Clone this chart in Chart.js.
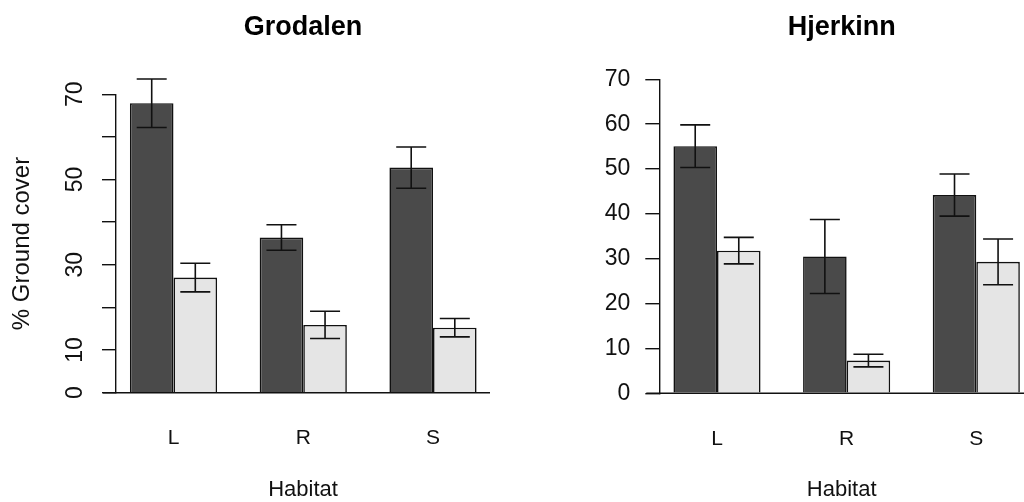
<!DOCTYPE html>
<html>
<head>
<meta charset="utf-8">
<script src="https://cdn.jsdelivr.net/npm/chart.js@4.4.1/dist/chart.umd.min.js"></script>
<style>
  body { margin: 0; background: #fff; }
  #wrap { position: relative; width: 1024px; height: 502px; }
  canvas { position: absolute; top: 0; }
  #groChart { left: 0; }
  #hjeChart { left: 512px; }
</style>
</head>
<body>
<div id="wrap">
  <canvas id="groChart" width="512" height="502"></canvas>
  <canvas id="hjeChart" width="512" height="502"></canvas>
</div>
<script>
// Data
const habitats = ["L", "R", "S"];
const groDark = [67.9, 36.4, 52.8];
const groDarkErr = [5.7, 3.0, 4.85];
const groLight = [27.0, 15.9, 15.25];
const groLightErr = [3.35, 3.2, 2.15];
const hjeDark = [55.1, 30.5, 44.2];
const hjeDarkErr = [4.75, 8.25, 4.7];
const hjeLight = [31.8, 7.3, 29.3];
const hjeLightErr = [2.95, 1.4, 5.1];
const groTickLabels = [0, 10, 30, 50, 70];

const FONT = "'Liberation Sans', Arial, sans-serif";
const INK = "#111";

// Error bars and the zero line
const errorBars = {
  id: "errorBars",
  afterDatasetsDraw(chart) {
    const ctx = chart.ctx;
    const y = chart.scales.y;
    const area = chart.chartArea;
    ctx.save();
    ctx.strokeStyle = INK;
    ctx.lineWidth = 1.6;
    chart.data.datasets.forEach((ds, di) => {
      chart.getDatasetMeta(di).data.forEach((bar, i) => {
        const v = ds.data[i].y;
        const e = ds.errors[i];
        const top = y.getPixelForValue(v + e);
        const bot = y.getPixelForValue(v - e);
        ctx.beginPath();
        ctx.moveTo(bar.x, top);
        ctx.lineTo(bar.x, bot);
        ctx.moveTo(bar.x - 15, top);
        ctx.lineTo(bar.x + 15, top);
        ctx.moveTo(bar.x - 15, bot);
        ctx.lineTo(bar.x + 15, bot);
        ctx.stroke();
      });
    });
    // horizontal line at zero
    const y0 = y.getPixelForValue(0);
    ctx.lineWidth = 1.5;
    ctx.beginPath();
    ctx.moveTo(area.left - 13, y0);
    ctx.lineTo(area.right, y0);
    ctx.stroke();
    ctx.restore();
  },
};

// Panel title centred over the plot area, and rotated y tick labels (left panel)
const panelText = {
  id: "panelText",
  afterDraw(chart, args, opts) {
    const ctx = chart.ctx;
    const area = chart.chartArea;
    const y = chart.scales.y;
    ctx.save();
    ctx.fillStyle = "#000";
    ctx.font = "bold 27px " + FONT;
    ctx.textAlign = "center";
    ctx.textBaseline = "alphabetic";
    ctx.fillText(opts.title, (area.left + area.right) / 2, 35);

    if (opts.labels) {
      ctx.fillStyle = INK;
      ctx.font = "23px " + FONT;
      ctx.textBaseline = "middle";
      opts.labels.forEach((v) => {
        ctx.save();
        ctx.translate(76, y.getPixelForValue(v));
        ctx.rotate(-Math.PI / 2);
        ctx.fillText(String(v), 0, 0);
        ctx.restore();
      });
    }
    ctx.restore();
  },
};

function makeChart(id, cfg) {
  const points = (vals) => vals.map((v, i) => ({ x: i + 1, y: v }));
  return new Chart(document.getElementById(id), {
    type: "bar",
    data: {
      datasets: [
        {
          data: points(cfg.dark),
          errors: cfg.darkErr,
          backgroundColor: "#4a4a4a",
          borderColor: INK,
          borderWidth: 1.6,
        },
        {
          data: points(cfg.light),
          errors: cfg.lightErr,
          backgroundColor: "#e5e5e5",
          borderColor: INK,
          borderWidth: 1.6,
        },
      ],
    },
    plugins: [errorBars, panelText],
    options: {
      responsive: false,
      animation: false,
      devicePixelRatio: 1,
      categoryPercentage: 0.672,
      barPercentage: 1,
      layout: { padding: { left: 0, right: cfg.padRight, top: cfg.padTop, bottom: 0 } },
      plugins: {
        legend: { display: false },
        tooltip: { enabled: false },
        title: { display: false },
        panelText: { title: cfg.title, labels: cfg.rotLabels },
      },
      scales: {
        x: {
          type: "linear",
          offset: false,
          min: cfg.xMin,
          max: cfg.xMax,
          afterBuildTicks: (s) => {
            s.ticks = habitats.map((h, i) => ({ value: i + 1 }));
          },
          afterFit: (s) => {
            s.height = cfg.xHeight;
          },
          grid: { display: false, drawTicks: false, offset: false },
          border: { display: false },
          ticks: {
            padding: 33,
            color: INK,
            font: { family: FONT, size: 21 },
            callback: (v) => habitats[Math.round(v) - 1],
          },
          title: {
            display: true,
            text: "Habitat",
            color: INK,
            font: { family: FONT, size: 22 },
            padding: { top: 0, bottom: -1 },
          },
        },
        y: {
          min: 0,
          max: 70,
          afterFit: (s) => {
            s.width = cfg.yWidth;
          },
          ticks: {
            display: cfg.showYTicks,
            stepSize: 10,
            padding: 15,
            color: INK,
            font: { family: FONT, size: 23 },
          },
          grid: {
            display: true,
            drawOnChartArea: false,
            drawTicks: true,
            tickLength: 14,
            color: INK,
            lineWidth: 1.4,
          },
          border: { display: true, color: INK, width: 1.4 },
          title: {
            display: cfg.yTitle !== "",
            text: cfg.yTitle,
            color: INK,
            font: { family: FONT, size: 24 },
            padding: { top: 8.1, bottom: 0 },
          },
        },
      },
    },
  });
}

document.addEventListener("DOMContentLoaded", () => {
  makeChart("groChart", {
    title: "Grodalen",
    dark: groDark,
    darkErr: groDarkErr,
    light: groLight,
    lightErr: groLightErr,
    padTop: 94.3,
    yWidth: 116,
    xHeight: 109.3,
    padRight: 22,
    xMin: 0.5568,
    xMax: 3.4393,
    showYTicks: false,
    rotLabels: groTickLabels,
    yTitle: "% Ground cover",
  });
  makeChart("hjeChart", {
    title: "Hjerkinn",
    dark: hjeDark,
    darkErr: hjeDarkErr,
    light: hjeLight,
    lightErr: hjeLightErr,
    padTop: 79.3,
    yWidth: 147.3,
    xHeight: 108.7,
    padRight: 0,
    xMin: 0.555,
    xMax: 3.368,
    showYTicks: true,
    rotLabels: null,
    yTitle: "",
  });
});
</script>
</body>
</html>
